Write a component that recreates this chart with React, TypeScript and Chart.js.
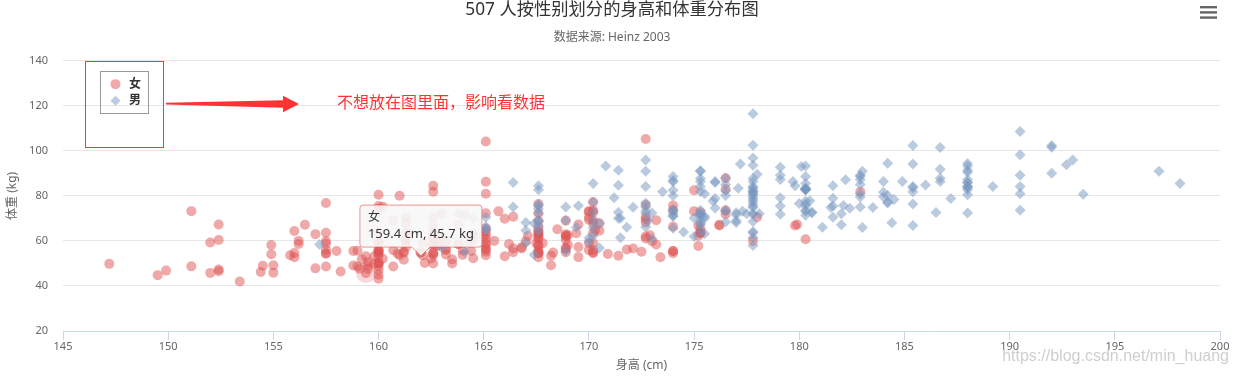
import React, { useEffect, useRef } from 'react';
import { Chart, registerables, Tooltip } from 'chart.js';

Chart.register(...registerables);

const titleText = '507 人按性别划分的身高和体重分布图';
const subtitleText = '数据来源: Heinz 2003';
const xAxisTitle = '身高 (cm)';
const yAxisTitle = '体重 (kg)';
const seriesNames = ['女', '男'];
const noteText = '不想放在图里面，影响看数据';
const watermarkText = 'https://blog.csdn.net/min_huang';
const xMin = 145;
const xMax = 200;
const xStep = 5;
const yMin = 20;
const yMax = 140;
const yStep = 20;
const hoveredPoint = [159.4, 45.7];

const femaleData: number[][] = [
  [161.2, 51.6], [167.5, 59.0], [159.5, 49.2], [157.0, 63.0], [155.8, 53.6], [170.0, 59.0], [159.1, 47.6], [166.0, 69.8], [176.2, 66.8], [160.2, 75.2],
  [172.5, 55.2], [170.9, 54.2], [172.9, 62.5], [153.4, 42.0], [160.0, 50.0], [147.2, 49.8], [168.2, 49.2], [175.0, 73.2], [157.0, 47.8], [167.6, 68.8],
  [159.5, 50.6], [175.0, 82.5], [166.8, 57.2], [176.5, 87.8], [170.2, 72.8], [174.0, 54.5], [173.0, 59.8], [179.9, 67.3], [170.5, 67.8], [160.0, 47.0],
  [154.4, 46.2], [162.0, 55.0], [176.5, 83.0], [160.0, 54.4], [152.0, 45.8], [162.1, 53.6], [170.0, 73.2], [160.2, 52.1], [161.3, 67.9], [166.4, 56.6],
  [168.9, 62.3], [163.8, 58.5], [167.6, 54.5], [160.0, 50.2], [161.3, 60.3], [167.6, 58.3], [165.1, 56.2], [160.0, 50.2], [170.0, 72.9], [157.5, 59.8],
  [167.6, 61.0], [160.7, 69.1], [163.2, 55.9], [152.4, 46.5], [157.5, 54.3], [168.3, 54.8], [180.3, 60.7], [165.5, 60.0], [165.0, 62.0], [164.5, 60.3],
  [156.0, 52.7], [160.0, 74.3], [163.0, 62.0], [165.7, 73.1], [161.0, 80.0], [162.0, 54.7], [166.0, 53.2], [174.0, 75.7], [172.7, 61.1], [167.6, 55.7],
  [151.1, 48.7], [164.5, 52.3], [163.5, 50.0], [152.0, 59.3], [169.0, 62.5], [164.0, 55.7], [161.2, 54.8], [155.0, 45.9], [170.0, 70.6], [176.2, 67.2],
  [170.0, 69.4], [162.5, 58.2], [170.3, 64.8], [164.1, 71.6], [169.5, 52.8], [163.2, 59.8], [154.5, 49.0], [159.8, 50.0], [173.2, 69.2], [170.0, 55.9],
  [161.4, 63.4], [169.0, 58.2], [166.2, 58.6], [159.4, 45.7], [162.5, 52.2], [159.0, 48.6], [162.8, 57.8], [159.0, 55.6], [179.8, 66.8], [162.9, 59.4],
  [161.0, 53.6], [151.1, 73.2], [168.2, 53.4], [168.9, 69.0], [173.2, 58.4], [171.8, 56.2], [178.0, 70.6], [164.3, 59.8], [163.0, 72.0], [168.5, 65.2],
  [166.8, 56.6], [172.7, 105.2], [163.5, 51.8], [169.4, 63.4], [167.8, 59.0], [159.5, 47.6], [167.6, 63.0], [161.2, 55.2], [160.0, 45.0], [163.2, 54.0],
  [162.2, 50.2], [161.3, 60.2], [149.5, 44.8], [157.5, 58.8], [163.2, 56.4], [172.7, 62.0], [155.0, 49.2], [156.5, 67.2], [164.0, 53.8], [160.9, 54.4],
  [162.8, 58.0], [167.0, 59.8], [160.0, 54.8], [160.0, 43.2], [168.9, 60.5], [158.2, 46.4], [156.0, 64.4], [160.0, 48.8], [167.1, 62.2], [158.0, 55.5],
  [167.6, 57.8], [156.0, 54.6], [162.1, 59.2], [173.4, 52.7], [159.8, 53.2], [170.5, 64.5], [159.2, 51.8], [157.5, 56.0], [161.3, 63.6], [162.6, 63.2],
  [160.0, 59.5], [168.9, 56.8], [165.1, 64.1], [162.6, 50.0], [165.1, 72.3], [166.4, 55.0], [160.0, 55.9], [152.4, 60.4], [170.2, 69.1], [162.6, 84.5],
  [170.2, 55.9], [158.8, 55.5], [172.7, 69.5], [167.6, 76.4], [162.6, 61.4], [167.6, 65.9], [156.2, 58.6], [175.2, 66.8], [172.1, 56.6], [162.6, 58.6],
  [160.0, 55.9], [165.1, 59.1], [182.9, 81.8], [166.4, 70.7], [165.1, 56.8], [177.8, 60.0], [165.1, 58.2], [175.3, 72.7], [154.9, 54.1], [158.8, 49.1],
  [172.7, 75.9], [168.9, 55.0], [161.3, 57.3], [167.6, 55.0], [165.1, 65.5], [175.3, 65.5], [157.5, 48.6], [163.8, 58.6], [167.6, 63.6], [165.1, 55.2],
  [165.1, 62.7], [168.9, 56.6], [162.6, 53.9], [164.5, 63.2], [176.5, 73.6], [168.9, 62.0], [175.3, 63.6], [159.4, 53.2], [160.0, 53.4], [170.2, 55.0],
  [162.6, 70.5], [167.6, 54.5], [162.6, 54.5], [160.7, 55.9], [160.0, 59.0], [157.5, 63.6], [162.6, 54.5], [152.4, 47.3], [170.2, 67.7], [165.1, 80.9],
  [172.7, 70.5], [165.1, 60.9], [170.2, 63.6], [170.2, 54.5], [170.2, 59.1], [161.3, 70.5], [167.6, 52.7], [167.6, 62.7], [165.1, 86.3], [162.6, 66.4],
  [152.4, 67.3], [168.9, 63.0], [170.2, 73.6], [175.2, 62.3], [175.2, 57.7], [160.0, 55.4], [165.1, 104.1], [174.0, 55.5], [170.2, 77.3], [160.0, 80.5],
  [167.6, 64.5], [167.6, 72.3], [167.6, 61.4], [154.9, 58.2], [162.6, 81.8], [175.3, 63.6], [171.4, 53.4], [157.5, 54.5], [165.1, 53.6], [160.0, 60.0],
  [174.0, 73.6], [162.6, 61.4], [174.0, 55.5], [162.6, 63.6], [161.3, 60.9], [156.2, 60.0], [149.9, 46.8], [169.5, 57.3], [160.0, 64.1], [175.3, 63.6],
  [169.5, 67.3], [160.0, 75.5], [172.7, 68.2], [162.6, 61.4], [157.5, 76.8], [176.5, 71.8], [164.4, 55.5], [160.7, 48.6], [174.0, 66.4], [163.8, 67.3],
];

const maleData: number[][] = [
  [174.0, 65.6], [175.3, 71.8], [193.5, 80.7], [186.5, 72.6], [187.2, 78.8], [181.5, 74.8], [184.0, 86.4], [184.5, 78.4], [175.0, 62.0], [184.0, 81.6],
  [180.0, 76.6], [177.8, 83.6], [192.0, 90.0], [176.0, 74.6], [174.0, 71.0], [184.0, 79.6], [192.7, 93.8], [171.5, 70.0], [173.0, 72.4], [176.0, 85.9],
  [176.0, 78.8], [180.5, 77.8], [172.7, 66.2], [176.0, 86.4], [173.5, 81.8], [178.0, 89.6], [180.3, 82.8], [180.3, 76.4], [164.5, 63.2], [173.0, 60.9],
  [183.5, 74.8], [175.5, 70.0], [188.0, 72.4], [189.2, 84.1], [172.8, 69.1], [170.0, 59.5], [182.0, 67.2], [170.0, 61.3], [177.8, 68.6], [184.2, 80.1],
  [186.7, 87.8], [171.4, 84.7], [172.7, 73.4], [175.3, 72.1], [180.3, 82.6], [182.9, 88.7], [188.0, 84.1], [177.2, 94.1], [172.1, 74.9], [167.0, 59.1],
  [169.5, 75.6], [174.0, 86.2], [172.7, 75.3], [182.2, 87.1], [164.1, 55.2], [163.0, 57.0], [171.5, 61.4], [184.2, 76.8], [174.0, 86.8], [174.0, 72.2],
  [177.0, 71.6], [186.0, 84.8], [167.0, 68.2], [171.8, 66.1], [182.0, 72.0], [167.0, 64.6], [177.8, 74.8], [164.5, 70.0], [192.0, 101.6], [175.5, 63.2],
  [171.2, 79.1], [181.6, 78.9], [167.4, 67.7], [181.1, 66.0], [177.0, 68.2], [174.5, 63.9], [177.5, 72.0], [170.5, 56.8], [182.4, 74.5], [197.1, 90.9],
  [180.1, 93.0], [175.5, 80.9], [180.6, 72.7], [184.4, 68.0], [175.5, 70.9], [180.6, 72.5], [177.0, 72.5], [177.1, 83.4], [181.6, 75.5], [176.5, 73.0],
  [175.0, 70.2], [174.0, 73.4], [165.1, 70.5], [177.0, 68.9], [192.0, 102.3], [176.5, 68.4], [169.4, 65.9], [182.1, 75.7], [179.8, 84.5], [175.3, 87.7],
  [184.9, 86.4], [177.3, 73.2], [167.4, 53.9], [178.1, 72.0], [168.9, 55.5], [157.2, 58.4], [180.3, 83.2], [170.2, 72.7], [177.8, 64.1], [172.7, 72.3],
  [165.1, 65.0], [186.7, 86.4], [165.1, 65.0], [174.0, 88.6], [175.3, 84.1], [185.4, 66.8], [177.8, 75.5], [180.3, 93.2], [180.3, 82.7], [177.8, 58.0],
  [177.8, 79.5], [177.8, 78.6], [177.8, 71.8], [177.8, 116.4], [163.8, 72.2], [188.0, 83.6], [198.1, 85.5], [175.3, 90.9], [166.4, 85.9], [190.5, 89.1],
  [166.4, 75.0], [177.8, 77.7], [179.7, 86.4], [172.7, 90.9], [190.5, 73.6], [185.4, 76.4], [168.9, 69.1], [167.6, 84.5], [175.3, 64.5], [170.2, 69.1],
  [190.5, 108.6], [177.8, 86.4], [190.5, 80.9], [177.8, 87.7], [184.2, 94.5], [176.5, 80.2], [177.8, 72.0], [180.3, 71.4], [171.4, 72.7], [172.7, 84.1],
  [172.7, 76.8], [177.8, 63.6], [177.8, 80.9], [182.9, 80.9], [170.2, 85.5], [167.6, 68.6], [175.3, 67.7], [165.1, 66.4], [185.4, 102.3], [181.6, 70.5],
  [172.7, 95.9], [190.5, 84.1], [179.1, 87.3], [175.3, 71.8], [170.2, 65.9], [193.0, 95.9], [171.4, 91.4], [177.8, 81.8], [177.8, 96.8], [167.6, 69.1],
  [167.6, 82.7], [180.3, 75.5], [182.9, 79.5], [176.5, 73.6], [186.7, 91.8], [188.0, 84.1], [188.0, 85.9], [177.8, 81.8], [174.0, 82.5], [177.8, 80.5],
  [171.4, 70.0], [185.4, 81.8], [185.4, 84.1], [188.0, 90.5], [188.0, 91.4], [182.9, 89.1], [176.5, 85.0], [175.3, 69.1], [175.3, 73.6], [188.0, 80.5],
  [188.0, 82.7], [175.3, 86.4], [170.5, 67.7], [179.1, 92.7], [177.8, 93.6], [175.3, 70.9], [182.9, 75.0], [170.8, 93.2], [188.0, 93.2], [180.3, 77.7],
  [177.8, 61.4], [185.4, 94.1], [168.9, 75.0], [185.4, 83.6], [180.3, 85.5], [174.0, 73.9], [167.6, 66.8], [182.9, 87.3], [160.0, 72.3], [180.3, 88.6],
  [167.6, 75.5], [186.7, 101.4], [175.3, 91.1], [175.3, 67.3], [175.9, 77.7], [175.3, 81.8], [179.1, 75.5], [181.6, 84.5], [177.8, 76.6], [182.9, 85.0],
  [177.8, 102.5], [184.2, 77.3], [179.1, 71.8], [176.5, 87.9], [188.0, 94.3], [174.0, 70.9], [167.6, 64.5], [170.2, 77.3], [167.6, 72.3], [188.0, 87.3],
  [174.0, 80.0], [176.5, 82.3], [180.3, 73.6], [167.6, 74.1], [188.0, 85.9], [180.3, 73.2], [167.6, 76.3], [183.0, 65.9], [183.0, 90.9], [179.1, 89.1],
  [170.2, 62.3], [177.8, 82.7], [179.1, 79.1], [190.5, 98.2], [177.8, 84.1], [180.3, 83.2], [180.3, 83.2],
];

const femaleColor = 'rgba(223, 83, 83, 0.5)';
const maleColor = 'rgba(119, 152, 191, 0.5)';
const latinFont = '"Noto Sans", "Noto Sans CJK SC", sans-serif';
const cjkFont = '"Noto Sans", "Noto Sans CJK SC", sans-serif';

(Tooltip as any).positioners.pointOffset = function (elements: any[]) {
  if (!elements.length) return false;
  const el = elements[0].element;
  return { x: el.x + 55, y: el.y - 17 };
};

const overlayPlugin = {
  id: 'overlay',
  afterDraw(chart: any) {
    const ctx = chart.ctx as CanvasRenderingContext2D;
    const area = chart.chartArea;
    ctx.save();

    // menu icon
    ctx.fillStyle = '#666';
    [6, 11.2, 16.4].forEach((y) => {
      ctx.fillRect(chart.width - 38, y, 17, 2.4);
    });

    // outer red box
    const bx = area.left + 22;
    const by = area.top;
    ctx.strokeStyle = '#f23c3c';
    ctx.lineWidth = 1;
    ctx.strokeRect(Math.round(bx) + 0.5, Math.round(by) + 0.5, 78, 86);

    // legend box
    const lx = area.left + 37;
    const ly = area.top + 10;
    ctx.strokeStyle = '#999';
    ctx.strokeRect(Math.round(lx) + 0.5, Math.round(ly) + 0.5, 48, 42);

    // legend items
    const sx = lx + 15.5;
    const y1 = ly + 13.5;
    const y2 = ly + 30;
    ctx.fillStyle = femaleColor;
    ctx.beginPath();
    ctx.arc(sx, y1, 5, 0, Math.PI * 2);
    ctx.fill();
    ctx.fillStyle = maleColor;
    ctx.beginPath();
    ctx.moveTo(sx, y2 - 5);
    ctx.lineTo(sx + 5, y2);
    ctx.lineTo(sx, y2 + 5);
    ctx.lineTo(sx - 5, y2);
    ctx.closePath();
    ctx.fill();
    ctx.fillStyle = '#333';
    ctx.font = `bold 12px ${cjkFont}`;
    ctx.textBaseline = 'middle';
    ctx.textAlign = 'left';
    ctx.fillText(seriesNames[0], lx + 29, y1);
    ctx.fillText(seriesNames[1], lx + 29, y2);

    // arrow
    const ax0 = bx + 81;
    const ay = ly + 33;
    ctx.fillStyle = '#f33';
    ctx.beginPath();
    ctx.moveTo(ax0, ay - 0.8);
    ctx.lineTo(ax0 + 117, ay - 3.5);
    ctx.lineTo(ax0 + 117, ay - 8);
    ctx.lineTo(ax0 + 133, ay + 0.3);
    ctx.lineTo(ax0 + 117, ay + 8.5);
    ctx.lineTo(ax0 + 117, ay + 4);
    ctx.lineTo(ax0, ay + 0.8);
    ctx.closePath();
    ctx.fill();

    // note text
    ctx.fillStyle = '#f33';
    ctx.font = `16px ${cjkFont}`;
    ctx.textBaseline = 'middle';
    ctx.fillText(noteText, ax0 + 171, ay);

    // watermark
    ctx.fillStyle = 'rgba(190,190,190,0.75)';
    ctx.font = '16px "Liberation Sans", Arial, sans-serif';
    ctx.textBaseline = 'alphabetic';
    ctx.textAlign = 'right';
    ctx.fillText(watermarkText, chart.width - 9, chart.height - 15);

    ctx.restore();
  },
};

export default function App() {
  const canvasRef = useRef<HTMLCanvasElement | null>(null);

  useEffect(() => {
    if (!canvasRef.current) return;
    const chart = new Chart(canvasRef.current, {
      type: 'scatter',
      data: {
        datasets: [
          {
            label: seriesNames[0],
            data: femaleData.map(([x, y]) => ({ x, y })),
            backgroundColor: femaleColor,
            borderWidth: 0,
            pointStyle: 'circle',
            pointRadius: 5,
            pointHoverRadius: 5,
            pointHoverBorderWidth: 10,
            pointHoverBorderColor: 'rgba(223, 83, 83, 0.22)',
            pointHoverBackgroundColor: femaleColor,
            order: 1,
          },
          {
            label: seriesNames[1],
            data: maleData.map(([x, y]) => ({ x, y })),
            backgroundColor: maleColor,
            borderWidth: 0,
            pointStyle: 'rectRot',
            pointRadius: 5.5,
            pointHoverRadius: 5.5,
            pointHoverBackgroundColor: maleColor,
            order: 0,
          },
        ],
      },
      options: {
        responsive: false,
        animation: false,
        devicePixelRatio: 1,
        layout: { padding: { left: 4, right: 18, top: 0, bottom: 2 } },
        scales: {
          x: {
            type: 'linear',
            min: xMin,
            max: xMax,
            afterFit: (axis: any) => {
              axis.height = 43;
            },
            ticks: {
              stepSize: xStep,
              color: '#666',
              padding: 0,
              font: { size: 11, family: latinFont },
            },
            grid: {
              drawOnChartArea: false,
              drawTicks: true,
              tickLength: 9,
              tickColor: '#ccd6eb',
            },
            border: { display: true, color: '#ccd6eb', width: 1 },
            title: {
              display: true,
              text: xAxisTitle,
              color: '#666',
              font: { size: 12, family: cjkFont },
              padding: { top: 0, bottom: 1 },
            },
          },
          y: {
            type: 'linear',
            min: yMin,
            max: yMax,
            afterFit: (axis: any) => {
              axis.width = 59;
            },
            ticks: {
              stepSize: yStep,
              color: '#666',
              padding: 15,
              font: { size: 11, family: latinFont },
            },
            grid: {
              drawTicks: false,
              color: (ctx: any) => (ctx.tick && ctx.tick.value === yMin ? 'rgba(0,0,0,0)' : '#e6e6e6'),
              lineWidth: 1,
            },
            border: { display: false },
            title: {
              display: true,
              text: yAxisTitle,
              color: '#666',
              font: { size: 12, family: cjkFont },
              padding: { top: 1, bottom: 4 },
            },
          },
        },
        plugins: {
          legend: { display: false },
          title: {
            display: true,
            text: titleText,
            color: '#333',
            font: { size: 17.3, weight: 'normal', family: cjkFont },
            padding: { top: 0, bottom: 4.5 },
          },
          subtitle: {
            display: true,
            text: subtitleText,
            color: '#666',
            font: { size: 12, weight: 'normal', family: cjkFont },
            padding: { top: 5, bottom: 16 },
          },
          tooltip: {
            enabled: true,
            position: 'pointOffset' as any,
            xAlign: 'center',
            yAlign: 'bottom',
            backgroundColor: 'rgba(247,247,247,0.9)',
            borderColor: 'rgba(223, 83, 83, 0.6)',
            borderWidth: 1,
            cornerRadius: 3,
            caretSize: 9,
            caretPadding: 0,
            displayColors: false,
            titleColor: '#333',
            bodyColor: '#333',
            titleFont: { size: 12, weight: 'normal', family: cjkFont },
            bodyFont: { size: 13, family: latinFont },
            titleMarginBottom: 2,
            padding: { top: 5, bottom: 5, left: 8, right: 8 },
            callbacks: {
              title: (items: any[]) => items[0].dataset.label,
              label: (item: any) => `${item.parsed.x} cm, ${item.parsed.y} kg`,
            },
          },
        },
      },
      plugins: [overlayPlugin],
    } as any);

    const idx = femaleData.findIndex((p) => p[0] === hoveredPoint[0] && p[1] === hoveredPoint[1]);
    if (idx >= 0) {
      const el: any = chart.getDatasetMeta(0).data[idx];
      chart.setActiveElements([{ datasetIndex: 0, index: idx }]);
      chart.tooltip?.setActiveElements([{ datasetIndex: 0, index: idx }], { x: el.x, y: el.y });
      chart.update();
    }

    return () => {
      chart.destroy();
    };
  }, []);

  return (
    <div style={{ position: 'absolute', left: 0, top: 0, width: 1238, height: 376, background: '#fff' }}>
      <canvas ref={canvasRef} width={1238} height={376} style={{ display: 'block' }} />
    </div>
  );
}
